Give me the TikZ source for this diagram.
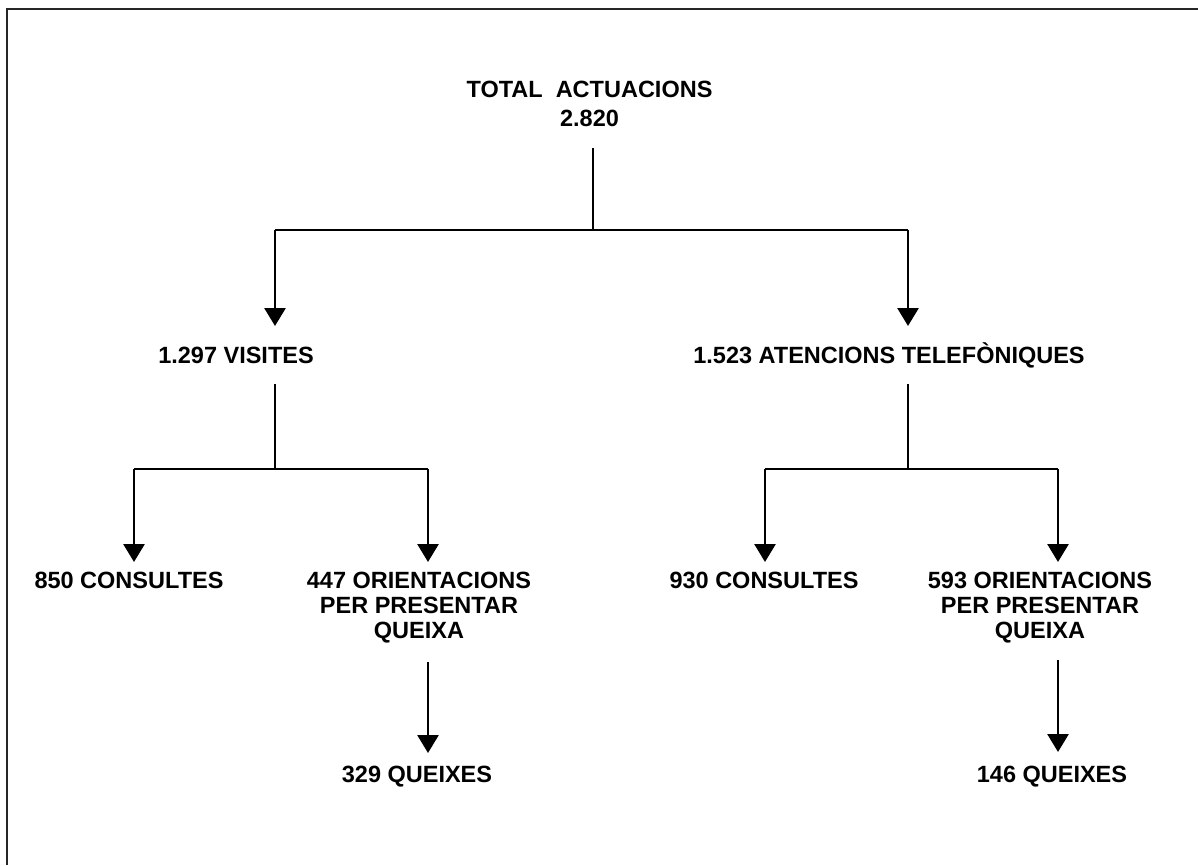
\documentclass[tikz,border=0pt]{standalone}
\usepackage{fontspec}
\setmainfont{Liberation Sans}
\usetikzlibrary{arrows.meta}
\tikzset{
  lbl/.style={inner sep=0pt, anchor=base, align=center,
    font=\fontsize{23.5}{25}\selectfont\bfseries},
  conn/.style={line width=2.8pt, black},
  arr/.style={conn, -{Triangle[width=21pt,length=18pt]}},
  frame/.style={line width=2pt, black!85}
}
\begin{document}
\begin{tikzpicture}[x=1pt,y=-1pt]
\useasboundingbox (0,0) rectangle (1198,865);
\fill[white] (0,0) rectangle (1198,865);
% frame
\coordinate (fc) at (6.5,8.5);
\draw[frame] (1198,8.5) -- (fc) -- (6.5,865);

% texts (multi-line nodes are placed by the baseline of their last line)
\node[lbl, font=\fontsize{23.5}{29}\selectfont\bfseries] (total) at (589.5,126) {TOTAL\ \ ACTUACIONS\\2.820};
\node[lbl] (vis) at (236,363) {1.297 VISITES};
\node[lbl] (tel) at (889,363) {1.523 ATENCIONS TELEFÒNIQUES};
\node[lbl] (c1) at (129,588) {850 CONSULTES};
\node[lbl] (o1) at (419,638) {447 ORIENTACIONS\\PER PRESENTAR\\QUEIXA};
\node[lbl] (c2) at (764,588) {930 CONSULTES};
\node[lbl] (o2) at (1040,638) {593 ORIENTACIONS\\PER PRESENTAR\\QUEIXA};
\node[lbl] (q1) at (417,782) {329 QUEIXES};
\node[lbl] (q2) at (1052,782) {146 QUEIXES};

% junction coordinates
\coordinate (t0) at (593,148);
\coordinate (t1) at (593,230);
\coordinate (tl) at (275,230);
\coordinate (tr) at (908,230);
\coordinate (vl) at (275,326);
\coordinate (vr) at (908,326);

\coordinate (v0) at (275,384);
\coordinate (v1) at (275,469);
\coordinate (vla) at (134,469);
\coordinate (vra) at (428,469);
\coordinate (va) at (134,562);
\coordinate (vb) at (428,562);

\coordinate (w0) at (908,384);
\coordinate (w1) at (908,469);
\coordinate (wla) at (765,469);
\coordinate (wra) at (1058,469);
\coordinate (wa) at (765,562);
\coordinate (wb) at (1058,562);

\coordinate (o1s) at (428,662);
\coordinate (q1n) at (428,753);
\coordinate (o2s) at (1058,660);
\coordinate (q2n) at (1058,752);

% connectors
\draw[conn] (t0) -- (t1);
\draw[conn] (tl) -- (tr);
\draw[arr] (tl) -- (vl);
\draw[arr] (tr) -- (vr);

\draw[conn] (v0) -- (v1);
\draw[conn] (vla) -- (vra);
\draw[arr] (vla) -- (va);
\draw[arr] (vra) -- (vb);

\draw[conn] (w0) -- (w1);
\draw[conn] (wla) -- (wra);
\draw[arr] (wla) -- (wa);
\draw[arr] (wra) -- (wb);

\draw[arr] (o1s) -- (q1n);
\draw[arr] (o2s) -- (q2n);
\end{tikzpicture}
\end{document}
